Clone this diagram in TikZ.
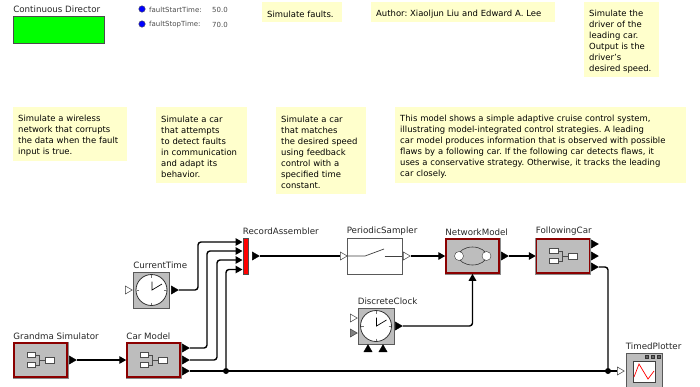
\documentclass[tikz,border=0pt]{standalone}
\usepackage{fontspec}
\setmainfont{DejaVu Sans}
\usetikzlibrary{arrows.meta}
\usetikzlibrary{shapes.geometric}
\usetikzlibrary{positioning}

\definecolor{notecolor}{HTML}{FFFFCC}
\definecolor{blockgray}{HTML}{BDBDBD}
\definecolor{darkred}{HTML}{8B0000}

\tikzset{
  note/.style={anchor=north west, fill=notecolor, inner xsep=5pt, inner ysep=0pt, align=left, font=\fontsize{8.45}{11}\selectfont\frenchspacing, execute at begin node=\rule{0pt}{10pt}},
  lbl/.style={anchor=south west, inner sep=0pt, yshift=2.5pt, font=\fontsize{8.7}{10}\selectfont, text=black!85},
  param/.style={anchor=west, inner sep=0pt, font=\fontsize{7}{8}\selectfont, text=black!70},
  paramdot/.style={circle, draw=black!70, fill=blue, inner sep=0pt, minimum size=6.5pt},
  composite/.style={rectangle, fill=blockgray, draw=darkred, line width=1.5pt, minimum width=53pt, minimum height=34pt, inner sep=0pt, preaction={draw=black!45, line width=3pt}},
  clockblock/.style={rectangle, fill=blockgray, draw=black!65, line width=0.8pt, minimum width=36pt, minimum height=36pt, inner sep=0pt},
  port/.style={isosceles triangle, isosceles triangle apex angle=60, minimum size=7pt, inner sep=0pt, anchor=lower side, line width=0.5pt},
  outport/.style={port, fill=black, draw=black},
  inport/.style={port, fill=white, draw=black!75},
  junction/.style={circle, fill=black, inner sep=0pt, minimum size=6pt},
  wire/.style={line width=1.4pt, rounded corners=3pt, draw=black},
  arrowwire/.style={wire, -{Triangle[length=7pt, width=7.5pt]}}
}

\newcommand{\compositeicon}[1]{
  \begin{scope}[shift={(#1)}, draw=black!70, line width=0.6pt]
    \draw (-5, -5) -- (-1, -5) -- (-1, 5) -- (-5, 5);
    \draw (-1, 0) -- (5, 0);
    \draw[fill=white] (-13.5, -7.5) rectangle (-5, -2.5);
    \draw[fill=white] (-13.5, 2.5) rectangle (-5, 7.5);
    \draw[fill=white] (5, -3) rectangle (14, 3);
  \end{scope}
}

\newcommand{\clockicon}[1]{
  \begin{scope}[shift={(#1)}]
    \draw[fill=white, draw=black!80, line width=0.8pt] (0, 0) circle (15.5);
    \foreach \ang in {0, 90, 180, 270} {
      \draw[black!55, line width=0.5pt] (\ang:12.5) -- (\ang:15);
    }
    \draw[line width=0.7pt] (0.5, -8.5) -- (0.5, 0) -- (10.5, -6);
  \end{scope}
}

\begin{document}
\begin{tikzpicture}[x=1pt, y=-1pt]
        \useasboundingbox (0, 0) rectangle (700, 386);

        \node[rectangle, fill=green, draw=black!70, line width=0.8pt, minimum width=91pt, minimum height=27pt, inner sep=0pt, label={[lbl]north west:{Continuous Director}}] (director) at (59, 29.5) {};

        \node[paramdot] (faultstart) at (142, 9) {};
        \node[paramdot] (faultstop) at (142, 24) {};
        \node[param] (faultstartname) at (149, 9.5) {faultStartTime:};
        \node[param] (faultstopname) at (149, 24.5) {faultStopTime:};
        \node[param] (faultstartvalue) at (212, 9.5) {50.0};
        \node[param] (faultstopvalue) at (212, 24.5) {70.0};

        \node[note, text width=70pt, minimum height=20pt] (faultsnote) at (262, 2) {Simulate faults.};
        \node[note, text width=174pt, minimum height=20pt] (authornote) at (371, 2) {Author: Xiaoljun Liu and Edward A. Lee};
        \node[note, text width=65pt, minimum height=75pt] (drivernote) at (584, 2) {Simulate the\\driver of the\\leading car.\\Output is the\\driver's\\desired speed.};
        \node[note, text width=104pt, minimum height=54pt] (networknote) at (13, 107) {Simulate a wireless\\network that corrupts\\the data when the fault\\input is true.};
        \node[note, text width=81pt, minimum height=76pt] (attemptnote) at (156, 107) {Simulate a car\\that attempts\\to detect faults\\in communication\\and adapt its\\behavior.};
        \node[note, text width=80pt, minimum height=87pt] (matchnote) at (276, 107) {Simulate a car\\that matches\\the desired speed\\using feedback\\control with a\\specified time\\constant.};
        \node[note, text width=281pt, minimum height=76pt] (modelnote) at (395, 107) {This model shows a simple adaptive cruise control system,\\illustrating model-integrated control strategies. A leading\\car model produces information that is observed with possible\\flaws by a following car. If the following car detects flaws, it\\uses a conservative strategy. Otherwise, it tracks the leading\\car closely.};

        \node[composite, label={[lbl]north west:{Grandma Simulator}}] (grandma) at (40.5, 360) {};
        \node[composite, label={[lbl]north west:{Car Model}}] (carmodel) at (153.5, 360) {};
        \node[composite, label={[lbl]north west:{NetworkModel}}] (networkmodel) at (472.5, 256) {};
        \node[composite, label={[lbl]north west:{FollowingCar}}] (followingcar) at (563, 256) {};
        \node[clockblock, label={[lbl]north west:{CurrentTime}}] (currenttime) at (151.5, 290) {};
        \node[clockblock, label={[lbl]north west:{DiscreteClock}}] (discreteclock) at (376, 326) {};
        \node[rectangle, fill=red, draw=black!70, line width=0.6pt, minimum width=5pt, minimum height=36pt, inner sep=0pt, label={[lbl]north west:{RecordAssembler}}] (recordassembler) at (245.5, 256) {};
        \node[rectangle, fill=white, draw=black!65, line width=0.8pt, minimum width=55pt, minimum height=36pt, inner sep=0pt, label={[lbl]north west:{PeriodicSampler}}] (sampler) at (374.5, 256) {};
        \node[clockblock, label={[lbl]north west:{TimedPlotter}}] (plotter) at (644, 371) {};

        \compositeicon{grandma.center}
        \compositeicon{carmodel.center}
        \compositeicon{followingcar.center}
        \clockicon{currenttime.center}
        \clockicon{discreteclock.center}

        \draw[black!75, line width=0.7pt] (sampler.west) -- (365, 256) -- (384, 249);
        \draw[black!75, line width=0.7pt] (384.5, 256) -- (sampler.east);

        \draw[black!80, line width=0.6pt] (networkmodel.center) ellipse (14 and 9);
        \node[circle, draw=black!80, fill=white, inner sep=0pt, minimum size=9pt] (netleft) at (459, 256) {};
        \node[circle, draw=black!80, fill=white, inner sep=0pt, minimum size=9pt] (netright) at (486.5, 256) {};

        \draw[fill=white, draw=black!75, line width=0.8pt] (633, 361) rectangle (655, 382);
        \draw[red, line width=0.7pt] (634, 377) -- (639, 364) -- (648, 379) -- (654, 371);
        \foreach \sx in {647, 652.5, 658.5} {
          \draw[fill=black!60, draw=black!80, line width=0.4pt] (\sx-1.5, 355) rectangle (\sx+1.5, 358);
        }

        \node[outport] (grandmaout) at (69, 360) {};
        \node[outport] (carout1) at (182, 348) {};
        \node[outport] (carout2) at (182, 360) {};
        \node[outport] (carout3) at (182, 371) {};
        \node[inport] (timein) at (125, 290) {};
        \node[outport] (timeout) at (171, 290) {};
        \node[outport] (recordout) at (252, 256) {};
        \node[inport] (samplerin) at (340, 256) {};
        \node[inport] (samplerout) at (403, 256) {};
        \node[outport] (networkout) at (501, 256) {};
        \node[outport] (followout1) at (591, 244) {};
        \node[outport] (followout2) at (591, 256) {};
        \node[outport] (followout3) at (591, 267) {};
        \node[inport] (clockin1) at (350, 318) {};
        \node[port, fill=black!50, draw=black!75] (clockin2) at (350, 333) {};
        \node[outport] (clockout) at (395, 326) {};
        \node[outport, shape border rotate=90] (clockbottom1) at (368, 352) {};
        \node[outport, shape border rotate=90] (clockbottom2) at (383, 352) {};
        \node[inport] (plotterin) at (617, 371) {};

        \coordinate (recin1) at (242.5, 242);
        \coordinate (recin2) at (242.5, 251);
        \coordinate (recin3) at (242.5, 260);
        \coordinate (recin4) at (242.5, 269.5);

        \node[junction] (junctioncar) at (226, 371) {};
        \node[junction] (junctionfollow) at (608, 371) {};

        \draw[arrowwire] (grandmaout.apex) -- (carmodel.west);
        \draw[arrowwire] (timeout.apex) -- (198, 290) |- (recin1);
        \draw[arrowwire] (carout1.apex) -- (207, 348) |- (recin2);
        \draw[arrowwire] (carout2.apex) -- (217, 360) |- (recin3);
        \draw[arrowwire] (junctioncar) |- (recin4);
        \draw[wire] (carout3.apex) -- (plotterin.lower side);
        \draw[wire] (recordout.apex) -- (samplerin.lower side);
        \draw[arrowwire] (samplerout.apex) -- (networkmodel.west);
        \draw[arrowwire] (networkout.apex) -- (followingcar.west);
        \draw[arrowwire] (clockout.apex) -| (networkmodel.south);
        \draw[wire] (followout3.apex) -- (608, 267) -- (junctionfollow);
      \end{tikzpicture}
\end{document}
